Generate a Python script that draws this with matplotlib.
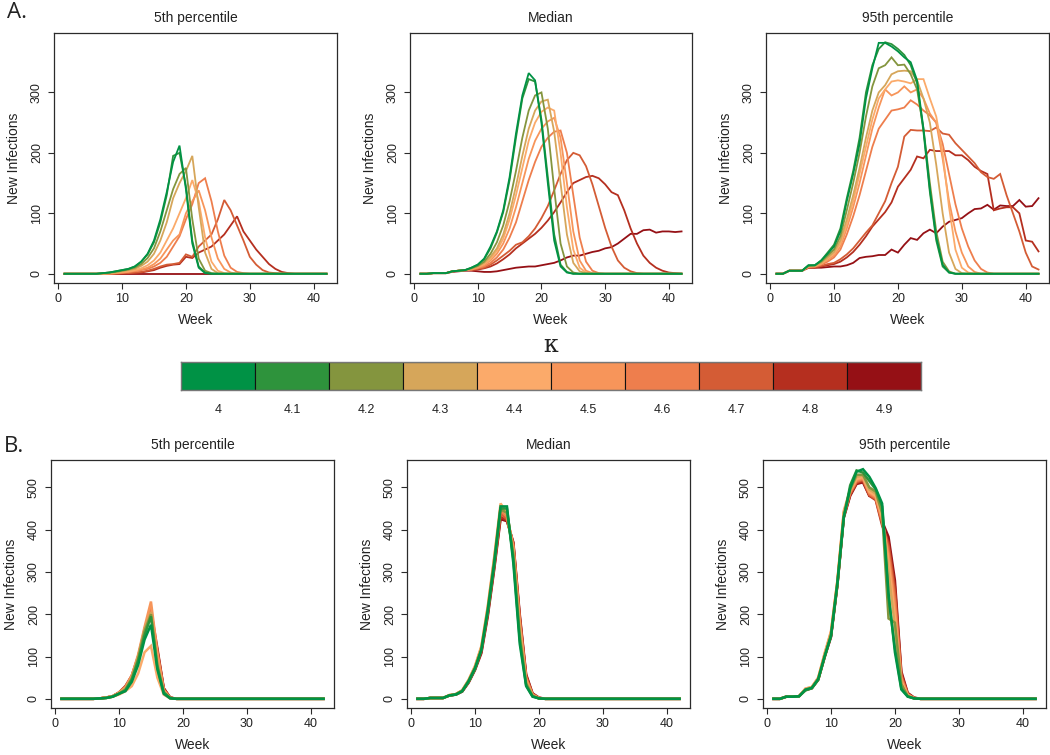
import matplotlib
matplotlib.use("Agg")
import matplotlib.pyplot as plt

plt.rcParams["font.family"] = ["Liberation Sans", "DejaVu Sans"]

weeks = list(range(1, 43))
kappas = ["4", "4.1", "4.2", "4.3", "4.4", "4.5", "4.6", "4.7", "4.8", "4.9"]
colors = ["#009245", "#2E933C", "#84953E", "#D6A65A", "#FBAA6A",
          "#F7955A", "#EE7E4D", "#D45C35", "#B52F1F", "#951015"]

# A: 5th percentile (one list per kappa, trailing zeros dropped)
a_p05 = [
    [0, 0, 0, 0, 0, 0, 1, 2, 4, 6, 8, 12, 20, 33, 55, 90, 135, 185, 212, 140, 50, 10, 1],
    [0, 0, 0, 0, 0, 0, 1, 2, 4, 6, 8, 12, 20, 32, 52, 85, 130, 195, 200, 145, 55, 12, 2],
    [0, 0, 0, 0, 0, 0, 1, 2, 3, 5, 7, 10, 16, 26, 42, 70, 105, 140, 165, 175, 90, 25, 5, 1],
    [0, 0, 0, 0, 0, 0, 0, 1, 2, 4, 6, 8, 13, 20, 33, 55, 85, 125, 150, 170, 195, 110, 35, 8, 1],
    [0, 0, 0, 0, 0, 0, 0, 1, 2, 3, 4, 6, 9, 14, 22, 35, 55, 75, 100, 125, 155, 120, 60, 20, 5, 1],
    [0, 0, 0, 0, 0, 0, 0, 0, 1, 2, 3, 5, 7, 10, 16, 25, 40, 55, 65, 100, 120, 138, 105, 60, 25, 8, 2],
    [0, 0, 0, 0, 0, 0, 0, 0, 1, 2, 3, 4, 6, 8, 12, 18, 28, 45, 62, 90, 115, 150, 158, 120, 70, 30, 10, 3, 1],
    [0, 0, 0, 0, 0, 0, 0, 0, 0, 1, 1, 2, 3, 5, 8, 12, 15, 16, 18, 32, 28, 45, 55, 65, 90, 122, 105, 80,
     55, 28, 15, 6, 2, 1],
    [0, 0, 0, 0, 0, 0, 0, 0, 0, 0, 1, 1, 2, 4, 6, 10, 13, 15, 16, 28, 26, 35, 40, 45, 55, 65, 80, 95,
     70, 55, 40, 28, 16, 8, 3, 1],
    [],
]

# A: median
a_p50 = [
    [0, 0, 1, 1, 1, 4, 5, 6, 10, 15, 25, 45, 70, 105, 160, 232, 295, 332, 320, 250, 150, 55, 12, 2],
    [0, 0, 1, 1, 1, 4, 5, 6, 10, 15, 24, 42, 68, 102, 155, 225, 290, 322, 318, 255, 160, 65, 15, 3],
    [0, 0, 1, 1, 1, 4, 5, 6, 9, 13, 20, 33, 52, 80, 120, 170, 225, 270, 295, 300, 240, 140, 50, 12, 2],
    [0, 0, 1, 1, 1, 4, 5, 6, 8, 12, 18, 28, 42, 65, 100, 145, 195, 240, 270, 285, 288, 235, 150, 65, 18, 4, 1],
    [0, 0, 1, 1, 1, 4, 5, 6, 8, 11, 16, 25, 38, 58, 90, 130, 175, 220, 250, 268, 275, 270, 200, 110, 40,
     10, 2],
    [0, 0, 1, 1, 1, 4, 5, 6, 7, 10, 14, 22, 33, 50, 75, 110, 150, 190, 220, 240, 252, 258, 225, 150, 70,
     22, 5, 1],
    [0, 0, 1, 1, 1, 4, 5, 6, 7, 9, 12, 18, 27, 40, 60, 85, 120, 155, 185, 210, 225, 235, 237, 200, 130,
     60, 20, 5, 1],
    [0, 0, 1, 1, 1, 4, 5, 6, 6, 8, 10, 15, 22, 30, 38, 48, 52, 62, 75, 92, 112, 138, 165, 188, 200, 196,
     178, 148, 112, 76, 45, 22, 10, 4, 1],
    [0, 0, 1, 1, 1, 4, 5, 6, 6, 7, 9, 12, 17, 24, 32, 42, 50, 58, 66, 76, 88, 102, 118, 135, 150, 155,
     160, 162, 158, 148, 135, 130, 105, 75, 50, 30, 18, 10, 5, 2, 1],
    [0, 0, 1, 1, 1, 3, 4, 5, 5, 4, 3, 3, 4, 6, 8, 10, 11, 12, 12, 14, 16, 18, 22, 27, 30, 30, 33, 36,
     38, 42, 44, 50, 58, 66, 66, 72, 73, 68, 70, 70, 69, 70],
]

# A: 95th percentile
a_p95 = [
    [0, 0, 5, 5, 5, 14, 14, 22, 33, 45, 70, 120, 165, 215, 290, 340, 382, 382, 376, 368, 358, 350, 320,
     240, 140, 60, 15, 2],
    [0, 0, 5, 5, 5, 14, 14, 22, 35, 48, 75, 125, 170, 225, 300, 345, 372, 383, 380, 372, 362, 345, 315,
     235, 135, 55, 12, 2],
    [0, 0, 5, 5, 5, 13, 14, 20, 30, 40, 62, 105, 150, 200, 260, 310, 340, 345, 358, 345, 346, 330, 305,
     240, 150, 70, 20, 4],
    [0, 0, 5, 5, 5, 12, 13, 18, 27, 36, 55, 90, 130, 175, 225, 270, 300, 312, 330, 335, 336, 335, 320,
     290, 250, 180, 100, 35, 8, 1],
    [0, 0, 5, 5, 5, 12, 13, 17, 25, 33, 50, 82, 120, 165, 210, 255, 290, 305, 318, 320, 318, 315, 322,
     322, 290, 260, 200, 110, 40, 10, 2],
    [0, 0, 5, 5, 5, 12, 12, 16, 23, 30, 45, 75, 110, 150, 195, 240, 275, 305, 295, 300, 310, 300, 305,
     290, 265, 250, 190, 120, 70, 35, 12, 3],
    [0, 0, 5, 5, 5, 11, 12, 15, 20, 27, 40, 65, 95, 130, 170, 210, 240, 255, 270, 272, 275, 287, 280,
     270, 262, 250, 215, 165, 115, 75, 45, 22, 8, 2],
    [0, 0, 5, 5, 5, 10, 11, 13, 16, 18, 24, 32, 42, 55, 68, 80, 100, 120, 150, 177, 227, 238, 237, 237,
     236, 242, 232, 230, 216, 205, 194, 183, 168, 160, 157, 165, 130, 100, 70, 35, 12, 7],
    [0, 0, 5, 5, 5, 10, 10, 12, 14, 16, 20, 27, 36, 48, 62, 78, 90, 102, 118, 144, 158, 172, 194, 191,
     205, 203, 203, 203, 196, 196, 188, 177, 170, 165, 105, 108, 110, 110, 100, 55, 53, 37],
    [0, 0, 5, 5, 5, 10, 10, 10, 11, 12, 12, 14, 18, 26, 28, 29, 31, 31, 40, 35, 48, 59, 56, 67, 73, 67,
     78, 86, 89, 92, 100, 107, 108, 114, 106, 113, 112, 112, 122, 111, 112, 125],
]

# B: 5th percentile
b_p05 = [
    [0, 0, 0, 0, 0, 0, 1, 2, 5, 12, 18, 40, 80, 140, 175, 70, 12, 1],
    [0, 0, 0, 0, 0, 0, 1, 2, 5, 12, 20, 45, 90, 150, 195, 75, 15, 2],
    [0, 0, 0, 0, 0, 0, 1, 2, 5, 12, 22, 48, 95, 160, 200, 80, 15, 2],
    [0, 0, 0, 0, 0, 0, 1, 3, 6, 14, 24, 50, 100, 165, 205, 85, 18, 2],
    [0, 0, 0, 0, 0, 0, 1, 2, 5, 10, 18, 30, 60, 110, 125, 50, 10, 1],
    [0, 0, 0, 0, 0, 0, 1, 3, 6, 14, 26, 55, 105, 170, 230, 110, 20, 2],
    [0, 0, 0, 0, 0, 0, 1, 3, 6, 15, 28, 55, 100, 165, 215, 100, 20, 2],
    [0, 0, 0, 0, 0, 0, 1, 3, 6, 15, 27, 52, 98, 160, 205, 105, 22, 3],
    [0, 0, 0, 0, 0, 0, 1, 3, 6, 15, 30, 55, 100, 160, 210, 120, 25, 3],
    [0, 0, 0, 0, 0, 0, 1, 3, 6, 14, 28, 52, 95, 155, 200, 115, 25, 3],
]

# B: median
b_p50 = [
    [0, 0, 2, 2, 2, 8, 10, 18, 42, 73, 116, 210, 320, 455, 455, 320, 130, 30, 5, 1],
    [0, 0, 2, 2, 2, 8, 10, 18, 40, 70, 115, 205, 315, 450, 450, 330, 140, 32, 6, 1],
    [0, 0, 2, 2, 2, 8, 11, 19, 42, 72, 118, 210, 325, 448, 440, 340, 150, 36, 7, 1],
    [0, 0, 2, 2, 2, 8, 11, 20, 44, 75, 122, 215, 330, 455, 435, 345, 160, 40, 8, 1],
    [0, 0, 2, 2, 2, 9, 11, 20, 45, 78, 125, 220, 335, 462, 440, 350, 170, 42, 8, 1],
    [0, 0, 2, 2, 2, 9, 11, 20, 44, 76, 122, 215, 330, 452, 438, 355, 175, 45, 9, 2],
    [0, 0, 2, 2, 2, 8, 11, 19, 42, 74, 120, 210, 322, 445, 430, 360, 185, 48, 10, 2],
    [0, 0, 2, 2, 2, 8, 10, 18, 40, 72, 115, 205, 315, 438, 425, 365, 190, 52, 11, 2],
    [0, 0, 2, 2, 2, 8, 10, 18, 40, 70, 112, 200, 310, 430, 422, 368, 195, 55, 12, 2],
    [0, 0, 2, 2, 2, 8, 10, 17, 38, 68, 108, 195, 305, 425, 420, 370, 200, 58, 13, 3],
]

# B: 95th percentile
b_p95 = [
    [0, 0, 5, 5, 6, 22, 26, 47, 100, 148, 274, 430, 498, 537, 543, 525, 498, 462, 250, 110, 22, 5, 1],
    [0, 0, 5, 5, 6, 20, 25, 45, 100, 150, 270, 428, 505, 540, 535, 515, 495, 455, 240, 120, 25, 6, 1],
    [0, 0, 5, 5, 6, 20, 25, 45, 98, 150, 272, 432, 495, 530, 530, 500, 490, 440, 190, 180, 35, 6, 1],
    [0, 0, 5, 5, 6, 22, 27, 48, 105, 155, 278, 440, 495, 525, 528, 495, 485, 440, 300, 170, 35, 7, 1],
    [0, 0, 5, 5, 6, 24, 28, 50, 108, 160, 280, 445, 495, 520, 525, 490, 480, 430, 320, 190, 40, 8, 1],
    [0, 0, 5, 5, 6, 24, 28, 50, 105, 158, 278, 440, 490, 518, 522, 488, 478, 425, 330, 210, 45, 9, 1],
    [0, 0, 5, 5, 6, 22, 27, 48, 102, 155, 275, 435, 488, 515, 520, 485, 475, 420, 345, 230, 50, 10, 2],
    [0, 0, 5, 5, 6, 22, 26, 47, 100, 150, 272, 432, 485, 512, 518, 482, 472, 415, 360, 250, 55, 11, 2],
    [0, 0, 5, 5, 6, 22, 26, 46, 100, 148, 270, 430, 482, 510, 515, 480, 470, 410, 370, 265, 60, 12, 2],
    [0, 0, 5, 5, 6, 21, 25, 45, 98, 146, 268, 428, 480, 508, 512, 480, 478, 420, 383, 280, 65, 14, 3],
]

titles = ["5th percentile", "Median", "95th percentile"]


def full(v):
    return v + [0] * (len(weeks) - len(v))


W, H = 1050, 755
fig = plt.figure(figsize=(W / 100, H / 100), dpi=100)
INK = "#222222"
FRAME = "#2b2b2b"


def px_axes(l, t, r, b):
    return fig.add_axes([l / W, 1 - b / H, (r - l) / W, (b - t) / H])


rows = [
    ([a_p05, a_p50, a_p95], [(54, 33, 337, 283), (410, 33, 692, 283), (766, 33, 1049, 283)],
     [0, 100, 200, 300], 1.3),
    ([b_p05, b_p50, b_p95], [(51, 460, 334, 708), (407, 460, 690, 708), (763, 460, 1046, 708)],
     [0, 100, 200, 300, 400, 500], 1.8),
]

for panels, boxes, yticks, lw in rows:
    top = max(max(full(c)) for p in panels for c in p)
    for panel, box, title in zip(panels, boxes, titles):
        ax = px_axes(*box)
        for i in reversed(range(len(kappas))):
            ax.plot(weeks, full(panel[i]), color=colors[i], lw=lw, solid_joinstyle="miter")
        span = weeks[-1] - weeks[0]
        ax.set_xlim(weeks[0] - 0.04 * span, weeks[-1] + 0.04 * span)
        ax.set_ylim(-0.04 * top, 1.04 * top)
        ax.set_xticks([0, 10, 20, 30, 40])
        ax.set_yticks(yticks)
        ax.tick_params(direction="out", length=4.5, width=0.8, color=FRAME,
                       labelsize=9, labelcolor=INK)
        ax.tick_params(axis="x", pad=2.5)
        ax.tick_params(axis="y", pad=3.5)
        for lbl in ax.get_yticklabels():
            lbl.set_rotation(90)
            lbl.set_va("center")
        for s in ax.spines.values():
            s.set_color(FRAME)
            s.set_linewidth(0.9)
        ax.set_title(title, fontsize=10, color=INK, pad=8)
        ax.set_xlabel("Week", fontsize=10, color=INK, labelpad=6)
        ax.set_ylabel("New Infections", fontsize=10, color=INK, labelpad=7)

# kappa legend bar
cax = px_axes(181, 362, 921, 390)
cax.bar(range(len(kappas)), [1] * len(kappas), width=1.0, color=colors,
        edgecolor="#111111", linewidth=0.8)
cax.set_xlim(-0.5, len(kappas) - 0.5)
cax.set_ylim(0, 1)
cax.set_yticks([])
cax.set_xticks(range(len(kappas)))
cax.set_xticklabels(kappas)
cax.tick_params(axis="x", length=0, pad=10, labelsize=9, labelcolor=INK)
for s in cax.spines.values():
    s.set_color("#777777")
    s.set_linewidth(1.0)

fig.text(551 / W, 1 - 346 / H, "\u03ba", ha="center", va="center", fontsize=17,
         color=INK, family="DejaVu Serif")
fig.text(17 / W, 1 - 13 / H, "A.", ha="center", va="center", fontsize=16,
         color=INK, family="Open Sans")
fig.text(14 / W, 1 - 447 / H, "B.", ha="center", va="center", fontsize=16,
         color=INK, family="Open Sans")

fig.savefig("out.png", dpi=100)
